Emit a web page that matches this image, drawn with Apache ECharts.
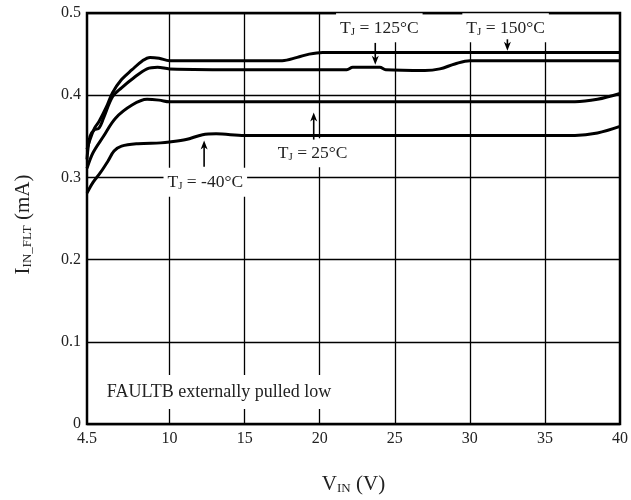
<!DOCTYPE html>
<html><head><meta charset="utf-8">
<script src="https://cdn.jsdelivr.net/npm/echarts@6/dist/echarts.min.js"></script>
<style>html,body{margin:0;padding:0;background:#fff}#c{width:631px;height:500px}</style>
</head><body><div id="c"></div>
<script>
// ---- data ----
const xLabelValues = [4.5, 10, 15, 20, 25, 30, 35, 40];
const xGridValues = [10, 15, 20, 25, 30, 35];
const yMin = 0, yMax = 0.5, yStep = 0.1;

const curve150 = [[4.5,0.334],[4.7,0.346],[5.0,0.360],[5.3,0.368],[5.8,0.386],[6.2,0.403],[6.8,0.419],[7.5,0.431],[8.2,0.442],[8.7,0.446],[9.3,0.445],[10,0.442],[12,0.442],[15,0.442],[17.5,0.442],[18.5,0.446],[19.3,0.450],[20.2,0.452],[25,0.452],[30,0.452],[35,0.452],[40,0.452]];
const curve125 = [[4.5,0.322],[4.7,0.350],[5.0,0.358],[5.3,0.360],[5.6,0.372],[6.2,0.398],[6.8,0.409],[7.6,0.421],[8.5,0.432],[9.2,0.434],[10,0.432],[15,0.431],[21.8,0.431],[22.2,0.434],[24,0.434],[24.4,0.431],[27,0.430],[28,0.432],[29,0.438],[30,0.442],[32,0.442],[40,0.442]];
const curve25 = [[4.5,0.311],[4.9,0.330],[5.6,0.350],[6.4,0.372],[7.5,0.388],[8.5,0.395],[9.3,0.394],[10,0.392],[20,0.392],[30,0.392],[37,0.392],[38.5,0.395],[40,0.402]];
const curveM40 = [[4.5,0.281],[4.9,0.294],[5.4,0.306],[5.9,0.320],[6.3,0.332],[6.8,0.338],[7.9,0.341],[9.4,0.342],[10,0.343],[11.1,0.346],[12.2,0.352],[13.1,0.353],[15,0.351],[25,0.351],[37,0.351],[38.5,0.354],[40,0.362]];
const tempNames = ['-40', '25', '125', '150'];
const noteText = 'FAULTB externally pulled low';

// ---- chart ----
const FONT = 'Liberation Serif';
const chart = echarts.init(document.getElementById('c'));
const lineSeries = (name, data) => ({
  name, type: 'line', data, smooth: 0.35, symbol: 'none',
  lineStyle: { color: '#000', width: 3 }, z: 5
});
const nameRich = {
  a: { fontFamily: FONT, fontSize: 21, color: '#222', verticalAlign: 'bottom', lineHeight: 24 },
  s: { fontFamily: FONT, fontSize: 13, color: '#222', verticalAlign: 'bottom', lineHeight: 23 }
};
chart.setOption({
  animation: false,
  grid: { left: 87, right: 8, top: 13, bottom: 76, show: true, borderColor: '#000', borderWidth: 2.5, z: 3 },
  xAxis: {
    type: 'value', min: 4.5, max: 40,
    name: '{a|V}{s|IN}{a| (V)}', nameLocation: 'middle', nameGap: 47,
    nameTextStyle: { rich: nameRich },
    axisLine: { show: false },
    axisTick: { show: false, customValues: xGridValues },
    axisLabel: { customValues: xLabelValues, fontFamily: FONT, fontSize: 16, color: '#222', margin: 7 },
    splitLine: { show: true, lineStyle: { color: '#000', width: 1.3 } }
  },
  yAxis: {
    type: 'value', min: yMin, max: yMax, interval: yStep,
    name: '{a|I}{s|IN_FLT}{a| (mA)}', nameLocation: 'middle', nameGap: 53, nameRotate: 90,
    nameTextStyle: { padding: [0, 12, 0, 0], rich: nameRich },
    axisLine: { show: false },
    axisTick: { show: false },
    axisLabel: { fontFamily: FONT, fontSize: 16, color: '#222', margin: 6 },
    splitLine: { show: true, lineStyle: { color: '#000', width: 1.3 } }
  },
  series: [
    lineSeries(tempNames[0], curveM40),
    lineSeries(tempNames[1], curve25),
    lineSeries(tempNames[2], curve125),
    lineSeries(tempNames[3], curve150)
  ]
});

// ---- annotations (placed in data coordinates) ----
const notes = [
  { t: tempNames[2], at: [23.97, 0.482], arrow: [23.7, 0.4636, 0.437] },
  { t: tempNames[3], at: [32.38, 0.482], arrow: [32.5, 0.468, 0.454] },
  { t: tempNames[1], at: [19.53, 0.330], arrow: [19.6, 0.346, 0.379] },
  { t: tempNames[0], at: [12.38, 0.294], arrow: [12.3, 0.313, 0.345] }
];
const richT = {
  a: { fontFamily: FONT, fontSize: 17.5, fill: '#222', verticalAlign: 'bottom', lineHeight: 19 },
  s: { fontFamily: FONT, fontSize: 11, fill: '#222', verticalAlign: 'bottom', lineHeight: 19 }
};
const px = (x, y) => chart.convertToPixel({ gridIndex: 0 }, [x, y]);
const g = [];
notes.forEach(n => {
  const p = px(n.at[0], n.at[1]);
  g.push({ type: 'text', z: 4, x: p[0], y: p[1], style: {
    text: '{a|T}{s|J}{a| = ' + n.t + '°C}', rich: richT, align: 'center', verticalAlign: 'middle',
    backgroundColor: '#fff', padding: [5, 4] } });
  const a0 = px(n.arrow[0], n.arrow[1]);
  const a1 = px(n.arrow[0], n.arrow[2]);
  const dir = a1[1] > a0[1] ? 1 : -1;
  g.push({ type: 'line', z: 6, shape: { x1: a0[0], y1: a0[1], x2: a1[0], y2: a1[1] - dir * 4 },
    style: { stroke: '#000', lineWidth: 1.6 } });
  g.push({ type: 'polygon', z: 6, shape: { points: [
    [a1[0], a1[1]], [a1[0] - 3.5, a1[1] - dir * 9], [a1[0], a1[1] - dir * 6.5], [a1[0] + 3.5, a1[1] - dir * 9]] },
    style: { fill: '#000' } });
});
const np = px(5.62, 0.039);
g.push({ type: 'text', z: 4, x: np[0], y: np[1], style: {
  text: noteText, fontFamily: FONT, fontSize: 18, fill: '#222', align: 'left', verticalAlign: 'middle',
  backgroundColor: '#fff', padding: [8, 3] } });
chart.setOption({ graphic: g });
</script></body></html>
